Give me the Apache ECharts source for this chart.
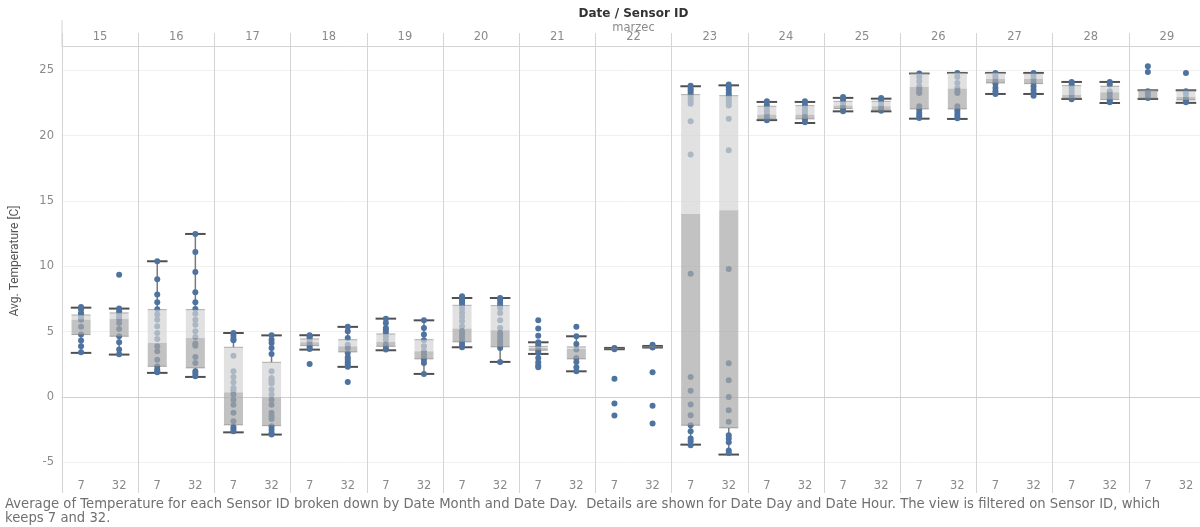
<!DOCTYPE html>
<html>
<head>
<meta charset="utf-8">
<script src="https://cdn.jsdelivr.net/npm/echarts@6/dist/echarts.min.js"></script>
<style>
  html, body { margin: 0; padding: 0; background: #ffffff; }
  #chart { width: 1200px; height: 527px; }
</style>
</head>
<body>
<div id="chart"></div>
<script>
// Days of March and the two sensors shown for each day
const days = [15, 16, 17, 18, 19, 20, 21, 22, 23, 24, 25, 26, 27, 28, 29];
const sensors = ['7', '32'];
const yTicks = [-5, 0, 5, 10, 15, 20, 25];

// Box plot statistics, one entry per day/sensor pair (7, 32, 7, 32, ...)
const whiskerLow = [3.37, 3.24, 1.84, 1.53, -2.71, -2.88, 3.62, 2.30, 3.57, 1.76,
                    3.80, 2.68, 3.29, 1.96, 3.65, 3.78, -3.65, -4.41, 21.18, 20.96,
                    21.85, 21.85, 21.29, 21.27, 23.18, 23.18, 22.80, 22.49, 22.80, 22.50];
const boxQ1 = [4.77, 4.64, 2.34, 2.22, -2.14, -2.20, 3.92, 3.44, 3.87, 2.91,
               4.21, 3.83, 3.57, 2.91, 3.68, 3.80, -2.17, -2.37, 21.25, 21.27,
               22.06, 21.93, 22.03, 22.03, 24.02, 23.97, 22.85, 22.75, 22.85, 22.72];
const boxMedian = [5.91, 5.96, 4.13, 4.51, 0.35, -0.03, 4.18, 3.87, 4.21, 3.49,
                   5.23, 5.10, 3.75, 3.67, 3.70, 3.83, 14.00, 14.28, 21.60, 21.60,
                   22.29, 22.24, 23.72, 23.59, 24.33, 24.33, 23.10, 23.31, 23.40, 22.95];
const boxQ3 = [6.27, 6.43, 6.68, 6.68, 3.80, 2.65, 4.44, 4.38, 4.82, 4.38,
               7.01, 6.99, 3.87, 3.83, 3.72, 3.86, 23.13, 23.05, 22.24, 22.29,
               22.62, 22.62, 24.74, 24.79, 24.79, 24.74, 23.82, 23.77, 23.46, 23.42];
const whiskerHigh = [6.83, 6.76, 10.38, 12.47, 4.89, 4.71, 4.72, 5.36, 5.99, 5.86,
                     7.57, 7.57, 4.18, 4.64, 3.75, 3.90, 23.77, 23.84, 22.57, 22.57,
                     22.88, 22.82, 24.74, 24.79, 24.79, 24.79, 24.10, 24.10, 23.46, 23.46];

// Hourly average temperatures per day: [sensor 7, sensor 32]
const temps15 = [[6.89, 6.70, 6.43, 6.30, 6.17, 6.00, 5.91, 5.36, 4.77, 4.31, 3.87, 3.41],
                 [9.35, 6.76, 6.55, 6.30, 6.10, 5.96, 5.66, 5.20, 4.64, 4.18, 3.62, 3.27]];
const temps16 = [[10.38, 9.00, 7.83, 7.24, 6.70, 6.30, 5.91, 5.40, 4.90, 4.44, 3.87, 3.49, 2.85, 2.34, 2.09, 1.95, 1.88],
                 [12.47, 11.09, 9.56, 8.00, 7.24, 6.73, 6.37, 5.91, 5.53, 5.02, 4.59, 4.08, 3.92, 3.06, 2.60, 1.96, 1.78, 1.58]];
const temps17 = [[4.89, 4.69, 4.46, 4.33, 3.16, 1.96, 1.53, 1.12, 0.69, 0.50, 0.18, -0.21, -0.59, -1.22, -1.87, -2.30, -2.45, -2.63],
                 [4.71, 4.38, 4.13, 3.75, 3.29, 1.96, 1.45, 1.32, 1.17, 1.02, 0.56, 0.18, -0.21, -0.59, -1.22, -1.48, -1.68, -2.25, -2.50, -2.75, -2.88]];
const temps18 = [[4.72, 4.62, 4.51, 4.25, 4.00, 3.82, 3.67, 2.52],
                 [5.36, 5.02, 4.51, 4.00, 3.75, 3.37, 3.03, 2.85, 2.65, 2.47, 2.30, 1.15]];
const temps19 = [[5.99, 5.66, 5.28, 5.15, 4.94, 4.64, 4.38, 4.00, 3.75, 3.62],
                 [5.86, 5.28, 4.77, 4.33, 3.87, 3.49, 3.24, 3.06, 2.85, 2.60, 1.76]];
const temps20 = [[7.70, 7.57, 7.44, 7.30, 7.19, 7.00, 6.73, 6.43, 6.12, 5.79, 5.40, 5.02, 4.77, 4.59, 4.38, 4.13, 3.92, 3.80],
                 [7.57, 7.44, 7.19, 7.00, 6.81, 6.43, 5.86, 5.28, 4.90, 4.64, 4.38, 4.18, 4.00, 3.75, 2.68]];
const temps21 = [[5.86, 5.23, 4.69, 4.18, 4.00, 3.80, 3.54, 3.37, 2.98, 2.65, 2.42, 2.27],
                 [5.36, 4.64, 4.05, 3.62, 2.98, 2.68, 2.27, 1.96]];
const temps22 = [[3.75, 3.70, 3.65, 1.40, -0.51, -1.43],
                 [4.00, 3.90, 3.83, 3.78, 1.88, -0.67, -2.04]];
const temps23 = [[23.80, 23.60, 23.45, 23.25, 23.05, 22.88, 22.67, 22.44, 21.09, 18.54, 9.43, 1.53, 0.48, -0.57, -1.41, -2.17, -2.63, -3.19, -3.40, -3.70],
                 [23.90, 23.72, 23.51, 23.25, 23.07, 22.88, 22.69, 22.49, 22.29, 21.29, 18.87, 9.79, 2.57, 1.27, 0.00, -1.02, -1.89, -2.94, -3.19, -3.47, -4.09, -4.29]];
const temps24 = [[22.62, 22.36, 22.11, 21.85, 21.60, 21.34, 21.16],
                 [22.62, 22.36, 22.11, 21.93, 21.73, 21.42, 21.22, 21.01]];
const temps25 = [[22.95, 22.75, 22.50, 22.24, 21.98, 21.85],
                 [22.88, 22.62, 22.36, 22.11, 21.90]];
const temps26 = [[24.74, 24.48, 24.15, 23.77, 23.56, 23.38, 23.25, 22.24, 21.98, 21.73, 21.52, 21.34],
                 [24.79, 24.48, 24.02, 23.64, 23.38, 23.25, 22.24, 21.93, 21.73, 21.52, 21.32]];
const temps27 = [[24.79, 24.58, 24.41, 24.15, 23.97, 23.64, 23.38, 23.18],
                 [24.79, 24.58, 24.33, 24.07, 23.77, 23.51, 23.25, 23.05]];
const temps28 = [[24.10, 23.90, 23.64, 23.38, 23.13, 22.88, 22.78],
                 [24.10, 23.90, 23.38, 23.13, 22.88, 22.69, 22.54]];
const temps29 = [[25.30, 24.87, 23.38, 23.13, 22.88],
                 [24.79, 23.38, 23.20, 22.88, 22.65, 22.54]];

const tempsByDay = [temps15, temps16, temps17, temps18, temps19, temps20, temps21, temps22,
                    temps23, temps24, temps25, temps26, temps27, temps28, temps29];

// ---- derived structures ----
const FONT = '"DejaVu Sans", "Open Sans", sans-serif';
const GRID = { left: 62, top: 46, width: 1143, height: 430 };
const LINE_GREY = '#d4d4d4';

const pairLabels = [];
days.forEach(() => sensors.forEach(s => pairLabels.push(s)));
const dayLabels = days.map(String);

const points = [];
tempsByDay.forEach((pair, di) => {
  pair.forEach((vals, si) => {
    vals.forEach(v => points.push([di * 2 + si, v]));
  });
});

const boxData = pairLabels.map((_, i) =>
  [i, whiskerLow[i], boxQ1[i], boxMedian[i], boxQ3[i], whiskerHigh[i]]);

// whiskers with end caps, drawn beneath the points
function renderWhisker(params, api) {
  const x = api.value(0);
  const half = api.size([1, 0])[0] * 0.27;
  const lo = api.coord([x, api.value(1)]);
  const q1 = api.coord([x, api.value(2)]);
  const q3 = api.coord([x, api.value(4)]);
  const hi = api.coord([x, api.value(5)]);
  const stem = { stroke: '#7a7a7a', lineWidth: 1.5 };
  const cap = { stroke: '#505050', lineWidth: 2 };
  return {
    type: 'group',
    children: [
      { type: 'line', shape: { x1: hi[0], y1: hi[1], x2: q3[0], y2: q3[1] }, style: stem },
      { type: 'line', shape: { x1: q1[0], y1: q1[1], x2: lo[0], y2: lo[1] }, style: stem },
      { type: 'line', shape: { x1: hi[0] - half, y1: hi[1], x2: hi[0] + half, y2: hi[1] }, style: cap },
      { type: 'line', shape: { x1: lo[0] - half, y1: lo[1], x2: lo[0] + half, y2: lo[1] }, style: cap }
    ]
  };
}

// two-tone translucent box laid over the points
function renderBox(params, api) {
  const x = api.value(0);
  const half = api.size([1, 0])[0] * 0.25;
  const q1 = api.coord([x, api.value(2)]);
  const md = api.coord([x, api.value(3)]);
  const q3 = api.coord([x, api.value(4)]);
  const edge = { stroke: 'rgba(110,110,110,0.5)', lineWidth: 1 };
  return {
    type: 'group',
    children: [
      { type: 'rect', shape: { x: q3[0] - half, y: q3[1], width: half * 2, height: md[1] - q3[1] },
        style: { fill: 'rgba(212,212,212,0.70)' } },
      { type: 'rect', shape: { x: md[0] - half, y: md[1], width: half * 2, height: q1[1] - md[1] },
        style: { fill: 'rgba(168,168,168,0.70)' } },
      { type: 'line', shape: { x1: q3[0] - half, y1: q3[1], x2: q3[0] + half, y2: q3[1] }, style: edge },
      { type: 'line', shape: { x1: q1[0] - half, y1: q1[1], x2: q1[0] + half, y2: q1[1] }, style: edge }
    ]
  };
}

const chart = echarts.init(document.getElementById('chart'), null, { renderer: 'canvas' });

chart.setOption({
  animation: false,
  backgroundColor: '#ffffff',
  textStyle: { fontFamily: FONT },
  grid: Object.assign({ outerBoundsMode: 'none', containLabel: false }, GRID),
  xAxis: [
    {
      type: 'category', data: pairLabels, position: 'bottom',
      axisLine: { show: true, lineStyle: { color: LINE_GREY } },
      axisTick: { show: false },
      axisLabel: { interval: 0, color: '#8a8a8a', fontSize: 11.5, margin: 4, fontFamily: FONT },
      splitLine: { show: false }
    },
    {
      type: 'category', data: dayLabels, position: 'bottom',
      axisLine: { show: false },
      axisTick: { show: true, interval: 0, length: 17, lineStyle: { color: LINE_GREY } },
      axisLabel: { show: false },
      splitLine: { show: false }
    },
    {
      type: 'category', data: dayLabels, position: 'top',
      axisLine: { show: true, lineStyle: { color: LINE_GREY } },
      axisTick: { show: true, interval: 0, length: 13, lineStyle: { color: LINE_GREY } },
      axisLabel: { interval: 0, color: '#8a8a8a', fontSize: 11.5, margin: 3, fontFamily: FONT },
      splitLine: { show: true, interval: 0, lineStyle: { color: LINE_GREY, width: 1 } }
    }
  ],
  yAxis: {
    type: 'value', min: -6.05, max: 26.85,
    name: 'Avg. Temperature [C]', nameLocation: 'middle', nameGap: 41, nameRotate: 90,
    nameTextStyle: { color: '#555', fontSize: 12, fontFamily: '"Liberation Sans Narrow", "Roboto", sans-serif' },
    axisLine: { show: true, lineStyle: { color: LINE_GREY } },
    axisTick: { show: false, customValues: yTicks },
    axisLabel: { customValues: yTicks, color: '#8a8a8a', fontSize: 11.5, margin: 8, fontFamily: FONT },
    splitLine: { show: true, lineStyle: { color: '#f0f0f0' } }
  },
  series: [
    {
      type: 'custom', name: 'whiskers', xAxisIndex: 0, z: 2,
      renderItem: renderWhisker, data: boxData,
      encode: { x: 0, y: [1, 2, 3, 4, 5] }, silent: true
    },
    {
      type: 'scatter', name: 'hourly', xAxisIndex: 0, z: 3,
      data: points, symbol: 'circle', symbolSize: 6,
      itemStyle: { color: '#4e73a0', opacity: 1 },
      markLine: {
        silent: true, symbol: 'none', label: { show: false }, z: 1,
        lineStyle: { color: '#cccccc', type: 'dotted', width: 1, opacity: 1 },
        emphasis: { disabled: true },
        data: [{ yAxis: 0 }]
      }
    },
    {
      type: 'custom', name: 'boxes', xAxisIndex: 0, z: 4,
      renderItem: renderBox, data: boxData,
      encode: { x: 0, y: [1, 2, 3, 4, 5] }, silent: true
    }
  ],
  graphic: [
    { type: 'text', x: GRID.left + GRID.width / 2, y: 8,
      style: { text: 'Date / Sensor ID', fill: '#333', font: 'bold 12px ' + FONT, textAlign: 'center' } },
    { type: 'text', x: GRID.left + GRID.width / 2, y: 22,
      style: { text: 'marzec', fill: '#8a8a8a', font: '11.5px ' + FONT, textAlign: 'center' } },
    { type: 'line', shape: { x1: GRID.left, y1: 20, x2: GRID.left, y2: GRID.top }, style: { stroke: LINE_GREY, lineWidth: 1 } },
    { type: 'text', x: 5, y: 498,
      style: {
        text: 'Average of Temperature for each Sensor ID broken down by Date Month and Date Day.  Details are shown for Date Day and Date Hour. The view is filtered on Sensor ID, which\nkeeps 7 and 32.',
        fill: '#707070', font: '13.2px ' + FONT, lineHeight: 14
      } }
  ]
});
</script>
</body>
</html>
